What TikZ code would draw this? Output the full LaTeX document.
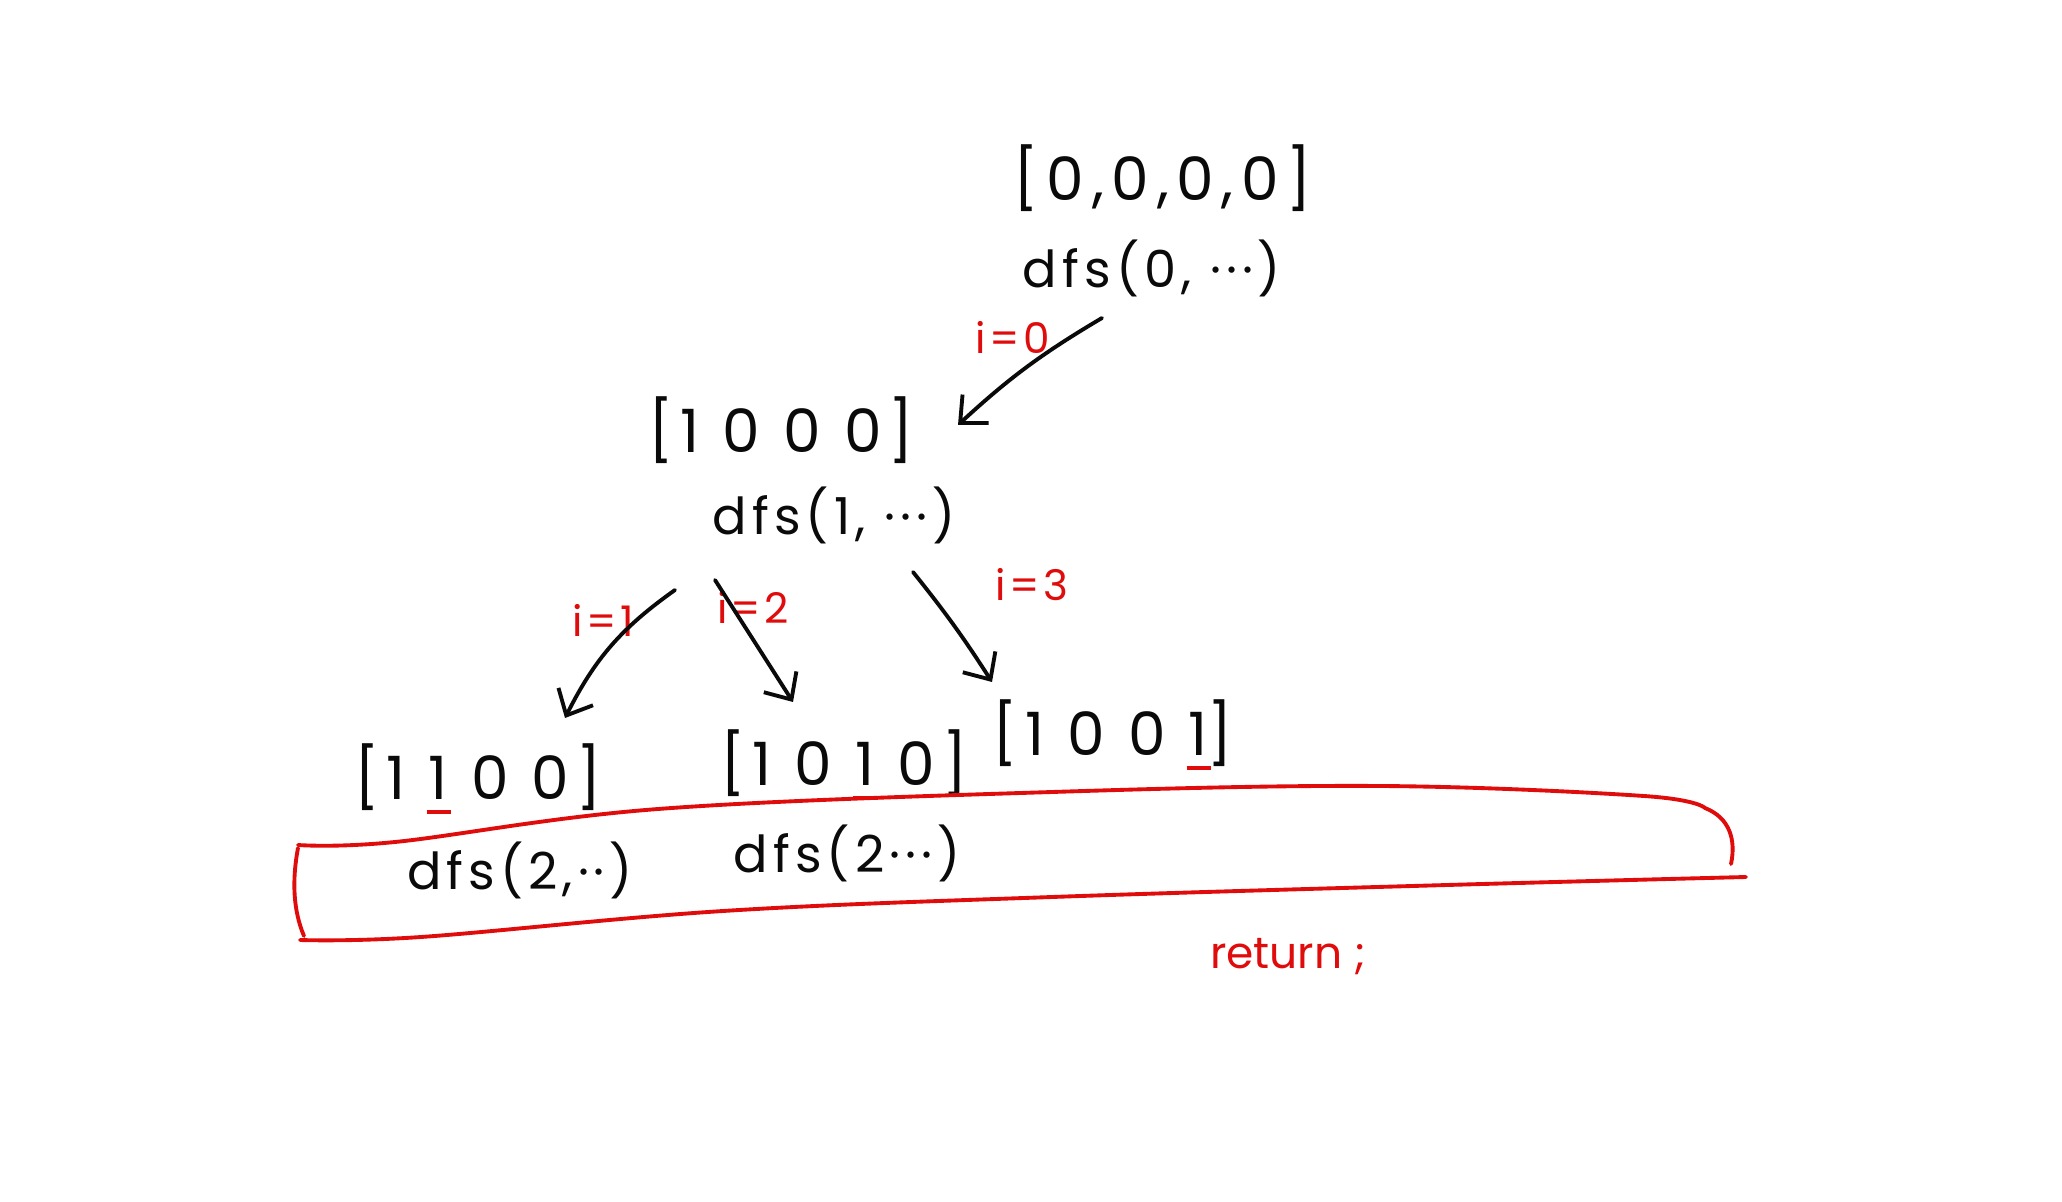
\documentclass[tikz,border=0pt]{standalone}
\usepackage{fontspec}
\setmainfont{Poppins}
\usetikzlibrary{arrows.meta}
\definecolor{inkred}{RGB}{224,12,12}
\definecolor{ink}{RGB}{10,10,10}
\newcommand{\redul}[1]{{\setbox0\hbox{#1}\rlap{\hspace*{-0.12\wd0}\textcolor{inkred}{\rule[-0.25em]{1.3\wd0}{1.2pt}}}\box0}}
\tikzset{
  arr/.style={ink, line width=1.1pt, line cap=round, -{Straight Barb[length=6pt,width=11pt,line width=1.1pt]}},
  txt/.style={ink, inner sep=0pt, font=\fontsize{17}{19}\selectfont\addfontfeature{LetterSpace=12}},
  fcall/.style={ink, inner sep=0pt, font=\fontsize{14.5}{17}\selectfont\addfontfeature{LetterSpace=10}},
  lbl/.style={inkred, inner sep=0pt, font=\fontsize{12}{14}\selectfont\addfontfeature{LetterSpace=8}},
  redline/.style={inkred, line width=1.1pt, line cap=round},
}
\begin{document}
\begin{tikzpicture}
\useasboundingbox (0,0) rectangle (20.62,-12.02);
\fill[white] (0,0) rectangle (20.62,-12.02);
% texts
\node[txt, font=\fontsize{17}{19}\selectfont\addfontfeature{LetterSpace=13}] (a0) at (11.63,-1.78) {[0,0,0,0]};
\node[fcall] (f0) at (11.52,-2.68) {dfs(0, ···)};
\node[txt] (a1) at (7.81,-4.30) {[1 0 0 0]};
\node[fcall] (f1) at (8.34,-5.15) {dfs(1, ···)};
\node[txt] (a2) at (4.78,-7.79) {[1 \redul{1} 0 0]};
\node[txt] (a3) at (8.44,-7.65) {[1 0 \redul{1} 0]};
\node[txt] (a4) at (11.13,-7.35) {[1 0 0 \redul{1}]};
\node[fcall] (f2) at (5.20,-8.70) {dfs(2,··)};
\node[fcall] (f3) at (8.47,-8.53) {dfs(2···)};
\node[inkred, inner sep=0pt, font=\fontsize{12.5}{15}\selectfont] (ret) at (12.88,-9.57) {return ;};
% labels
\node[lbl] (l0) at (10.13,-3.37) {i=0};
\node[lbl] (l1) at (6.03,-6.20) {i=1};
\node[lbl] (l2) at (7.53,-6.07) {i=2};
\node[lbl] (l3) at (10.32,-5.85) {i=3};
% arrow ends
\coordinate (s0) at (11.02,-3.18);
\coordinate (e0) at (9.58,-4.25);
\coordinate (s1) at (6.75,-5.90);
\coordinate (e1) at (5.65,-7.18);
\coordinate (s2) at (7.15,-5.80);
\coordinate (e2) at (7.93,-7.02);
\coordinate (s3) at (9.13,-5.72);
\coordinate (e3) at (9.92,-6.82);
\draw[arr] (s0) to[bend right=6] (e0);
\draw[arr] (s1) to[bend right=14] (e1);
\draw[arr] (s2) -- (e2);
\draw[arr] (s3) to[bend left=3] (e3);
% red box
\draw[redline] plot[smooth, tension=0.6] coordinates {(2.98,-8.45) (3.95,-8.42) (6.58,-8.09) (10.52,-7.92) (13.81,-7.86) (16.44,-7.96) (17.05,-8.08)}
  .. controls (17.30,-8.18) and (17.36,-8.40) .. (17.31,-8.64);
\draw[redline] plot[smooth, tension=0.6] coordinates {(3.00,-9.40) (4.21,-9.37) (7.23,-9.11) (10.52,-8.97) (14.47,-8.85) (17.46,-8.77)};
\draw[redline] (2.98,-8.48) .. controls (2.92,-8.80) and (2.93,-9.10) .. (3.04,-9.36);
\end{tikzpicture}
\end{document}
